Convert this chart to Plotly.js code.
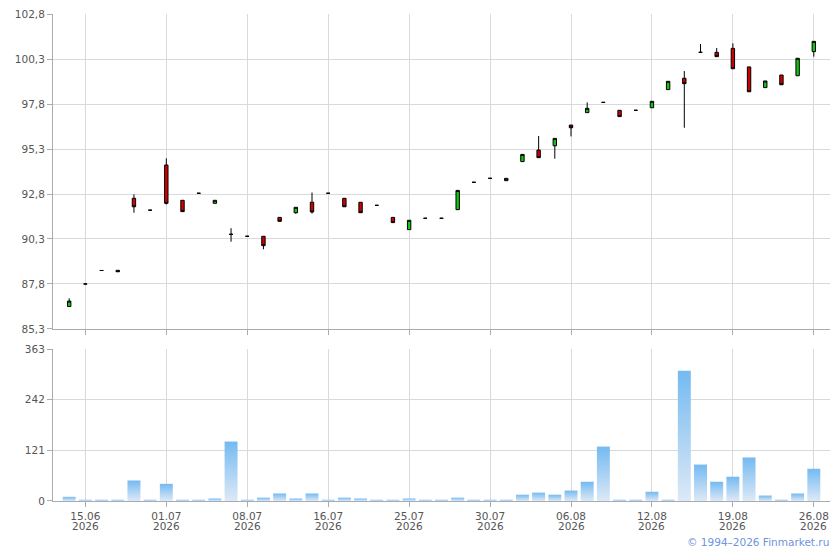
<!DOCTYPE html>
<html>
<head>
<meta charset="utf-8">
<script src="https://cdn.plot.ly/plotly-3.0.1.min.js"></script>
<style>html,body{margin:0;padding:0;background:#fff;}#chart{width:840px;height:550px;}</style>
</head>
<body>
<div id="chart"></div>
<script>
// Session index (trading sessions shown on the chart)
var sessions = [0,1,2,3,4,5,6,7,8,9,10,11,12,13,14,15,16,17,18,19,20,21,22,23,24,25,26,27,28,29,30,31,32,33,34,35,36,37,38,39,40,41,42,43,44,45,46];
var openP  = [86.55,87.8,88.55,88.56,92.56,91.9,94.41,92.45,92.84,92.28,90.56,90.45,90.45,91.5,91.76,92.34,92.84,92.56,92.34,92.17,91.5,90.82,91.45,91.45,91.93,93.45,93.67,93.54,94.6,95.24,95.48,96.63,97.32,97.89,97.45,97.45,97.59,98.6,99.23,100.67,100.67,100.89,99.86,98.71,99.41,99.37,100.71];
var highP  = [87.0,87.8,88.55,88.56,92.78,91.9,94.78,92.45,92.84,92.45,90.9,90.45,90.45,91.5,92.06,92.88,92.84,92.56,92.34,92.17,91.5,91.34,91.45,91.45,93.0,93.45,93.67,93.67,95.0,96.02,95.89,96.63,97.89,97.89,97.45,97.45,97.95,99.06,99.63,101.13,100.91,101.17,99.86,99.08,99.41,100.34,101.28];
var lowP   = [86.55,87.8,88.55,88.48,91.76,91.9,92.22,91.82,92.84,92.28,90.15,90.45,89.73,91.28,91.7,91.71,92.84,92.09,91.76,92.17,91.21,90.82,91.45,91.45,91.93,93.45,93.67,93.54,94.6,94.82,94.76,96.0,97.32,97.89,97.1,97.45,97.59,98.6,96.48,100.67,100.43,99.76,98.48,98.71,98.87,99.37,100.43];
var closeP = [86.85,87.8,88.55,88.48,92.09,91.9,92.28,91.82,92.84,92.45,90.56,90.45,89.93,91.28,92.06,91.8,92.84,92.09,91.76,92.17,91.21,91.34,91.45,91.45,93.0,93.45,93.67,93.67,95.0,94.82,95.89,96.48,97.56,97.89,97.1,97.45,97.95,99.06,98.93,100.67,100.43,99.76,98.48,99.08,98.87,100.34,101.28];
var volume = [10,3,3,3,49,3,41,3,3,6,142,3,8,18,6,18,3,8,6,3,3,6,3,3,8,3,3,3,15,20,15,25,46,130,3,3,22,3,311,87,46,58,104,13,3,18,77];

var tickSessions = [1,6,11,16,21,26,31,36,41,46];
var tickDates = ['15.06','01.07','08.07','16.07','25.07','30.07','06.08','12.08','19.08','26.08'];
var tickYear = '2026';
var priceTicks = [85.3,87.8,90.3,92.8,95.3,97.8,100.3,102.8];
var volTicks = [0,121,242,363];

var gridC = '#d6dadd';
var axisC = '#a9abb0';
var fontC = '#555555';
var fam = 'DejaVu Sans, Verdana, sans-serif';
var fs = 10.5;

var candles = {
  type: 'candlestick',
  x: sessions, open: openP, high: highP, low: lowP, close: closeP,
  xaxis: 'x2', yaxis: 'y',
  increasing: {line: {color: '#000000', width: 1}, fillcolor: '#11c611'},
  decreasing: {line: {color: '#000000', width: 1}, fillcolor: '#d10000'},
  whiskerwidth: 0,
  hoverinfo: 'none',
  showlegend: false
};
var vols = {
  type: 'bar',
  x: sessions, y: volume,
  xaxis: 'x', yaxis: 'y2',
  marker: {color: '#9ccbf2', line: {width: 0}},
  hoverinfo: 'none',
  showlegend: false
};

var annotations = tickSessions.map(function(s){
  return {
    text: tickYear, xref: 'x', yref: 'paper', x: s, y: 0,
    xanchor: 'center', yanchor: 'middle', yshift: -24.5,
    showarrow: false, font: {family: fam, size: fs, color: fontC}
  };
});
annotations.push({
  text: '© 1994–2026 Finmarket.ru',
  xref: 'paper', yref: 'paper', x: 1, y: 0,
  xanchor: 'right', yanchor: 'middle', yshift: -41, xshift: 1,
  showarrow: false,
  font: {family: fam, size: fs, color: '#6f93dd'}
});

var layout = {
  width: 840, height: 550,
  margin: {l: 53, r: 10, t: 14, b: 49},
  paper_bgcolor: '#ffffff', plot_bgcolor: '#ffffff',
  separators: ', ',
  font: {family: fam, size: fs, color: fontC},
  bargap: 0.2,
  boxgap: 0.7,
  showlegend: false,
  xaxis: {
    domain: [0, 1], anchor: 'y2',
    range: [-1, 47], fixedrange: true,
    tickmode: 'array', tickvals: tickSessions, ticktext: tickDates,
    showgrid: true, gridcolor: gridC, gridwidth: 1,
    showline: true, linecolor: axisC, linewidth: 1,
    ticks: 'outside', ticklen: 5, tickcolor: axisC,
    tickfont: {family: fam, size: fs, color: fontC},
    zeroline: false
  },
  xaxis2: {
    domain: [0, 1], anchor: 'y', matches: 'x',
    range: [-1, 47],
    rangeslider: {visible: false},
    tickmode: 'array', tickvals: tickSessions, ticktext: tickDates,
    showticklabels: false,
    showgrid: true, gridcolor: gridC, gridwidth: 1,
    showline: true, linecolor: axisC, linewidth: 1,
    ticks: 'outside', ticklen: 5, tickcolor: axisC,
    zeroline: false
  },
  yaxis: {
    domain: [0.3532, 1], anchor: 'x2',
    range: [85.3, 102.8],
    tickmode: 'array', tickvals: priceTicks,
    tickformat: '.1f',
    showgrid: true, gridcolor: gridC, gridwidth: 1,
    showline: true, linecolor: axisC, linewidth: 1,
    ticks: 'outside', ticklen: 5, tickcolor: axisC,
    tickfont: {family: fam, size: fs, color: fontC},
    zeroline: false
  },
  yaxis2: {
    domain: [0, 0.3121], anchor: 'x',
    range: [0, 363],
    tickmode: 'array', tickvals: volTicks,
    showgrid: true, gridcolor: gridC, gridwidth: 1,
    showline: true, linecolor: axisC, linewidth: 1,
    ticks: 'outside', ticklen: 5, tickcolor: axisC,
    tickfont: {family: fam, size: fs, color: fontC},
    zeroline: false
  },
  annotations: annotations
};

Plotly.newPlot('chart', [candles, vols], layout, {staticPlot: true, displayModeBar: false}).then(function(gd){
  var svgNS = 'http://www.w3.org/2000/svg';
  var svg = gd.querySelector('svg.main-svg');
  var defs = svg.querySelector('defs');
  if (!defs) { defs = document.createElementNS(svgNS, 'defs'); svg.insertBefore(defs, svg.firstChild); }
  var lg = document.createElementNS(svgNS, 'linearGradient');
  lg.setAttribute('id', 'volgrad');
  lg.setAttribute('x1', '0'); lg.setAttribute('y1', '0');
  lg.setAttribute('x2', '0'); lg.setAttribute('y2', '1');
  [['0', '#74baf1'], ['1', '#dde9f6']].forEach(function(s){
    var st = document.createElementNS(svgNS, 'stop');
    st.setAttribute('offset', s[0]);
    st.setAttribute('stop-color', s[1]);
    lg.appendChild(st);
  });
  defs.appendChild(lg);
  gd.querySelectorAll('.barlayer .point path').forEach(function(p){
    p.style.fill = 'url(#volgrad)';
    p.style.fillOpacity = '1';
  });
});
</script>
</body>
</html>
